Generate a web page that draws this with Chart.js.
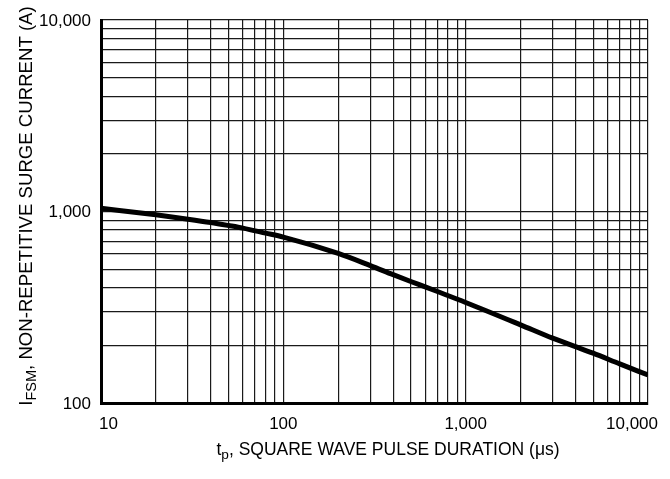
<!DOCTYPE html>
<html lang="en">
  <head>
    <meta charset="UTF-8" />
    <title>Surge Current vs Pulse Duration</title>
    <script src="https://cdn.jsdelivr.net/npm/chart.js"></script>
    <style>
      body { margin: 0; background: #fff; }
      #wrap { width: 670px; height: 479px; position: relative; }
    </style>
  </head>
  <body>
    <div id="wrap"><canvas id="grafico"></canvas></div>

    <script>
      // pulse duration (us) and surge current (A)
      const tp = [10, 20, 30, 40, 50, 60, 80, 100, 200, 300, 400, 500, 600, 700, 1000, 2000, 3000, 4000, 5000, 7000, 10000];
      const ifsm = [1040, 961, 912, 876, 845, 819, 771, 735, 604, 522, 468, 431, 404, 382, 335, 256, 218, 197, 182, 160, 140];

      // grid lines and labelled ticks
      const xGrid = [10, 20, 30, 40, 50, 60, 70, 80, 90, 100, 200, 300, 400, 500, 600, 700, 800, 900,
                     1000, 2000, 3000, 4000, 5000, 6000, 7000, 8000, 9000, 10000];
      const yGrid = [100, 200, 300, 400, 500, 600, 700, 800, 900, 1000, 2000, 3000, 4000, 5000, 6000, 7000, 8000, 9000, 10000];
      const xTicks = [10, 100, 1000, 10000];
      const xTickLabels = ['10', '100', '1,000', '10,000'];
      const yTicks = [100, 1000, 10000];
      const yTickLabels = ['100', '1,000', '10,000'];

      const FONT = '"Liberation Sans", Arial, Helvetica, sans-serif';

      // text made of normal and subscript parts
      function partsWidth(ctx, parts, size) {
        let w = 0;
        parts.forEach(p => {
          ctx.font = (p.sub ? size * 0.78 : size) + 'px ' + FONT;
          w += ctx.measureText(p.t).width;
        });
        return w;
      }
      function drawParts(ctx, parts, x, y, size) {
        parts.forEach(p => {
          ctx.font = (p.sub ? size * 0.78 : size) + 'px ' + FONT;
          ctx.fillText(p.t, x, p.sub ? y + 4 : y);
          x += ctx.measureText(p.t).width;
        });
      }

      const labelsPlugin = {
        id: 'labels',
        afterDraw(chart) {
          const ctx = chart.ctx;
          const xs = chart.scales.x, ys = chart.scales.y;
          ctx.save();
          ctx.fillStyle = '#000';
          ctx.font = '17px ' + FONT;

          // x tick labels, end ones pulled inward
          ctx.textBaseline = 'middle';
          xTicks.forEach((v, i) => {
            let px = xs.getPixelForValue(v);
            if (i === 0) { ctx.textAlign = 'left'; px -= 2; }
            else if (i === xTicks.length - 1) { ctx.textAlign = 'right'; px += 10; }
            else ctx.textAlign = 'center';
            ctx.fillText(xTickLabels[i], px, ys.bottom + 21);
          });

          // y tick labels
          ctx.textAlign = 'right';
          yTicks.forEach((v, i) => {
            ctx.fillText(yTickLabels[i], xs.left - 10, ys.getPixelForValue(v) + 1);
          });

          // x title
          ctx.textAlign = 'left';
          ctx.textBaseline = 'alphabetic';
          const xt = [{ t: 't' }, { t: 'p', sub: true }, { t: ', SQUARE WAVE PULSE DURATION (\u03BCs)' }];
          const xw = partsWidth(ctx, xt, 17.5);
          drawParts(ctx, xt, 388 - xw / 2, 455, 17.5);

          // y title, rotated
          const yt = [{ t: 'I' }, { t: 'FSM', sub: true }, { t: ', NON-REPETITIVE SURGE CURRENT (A)' }];
          const yw = partsWidth(ctx, yt, 18.6);
          ctx.translate(32, 206);
          ctx.rotate(-Math.PI / 2);
          drawParts(ctx, yt, -yw / 2, 0, 18.6);
          ctx.restore();
        }
      };

      const chart = new Chart(document.getElementById('grafico').getContext('2d'), {
        type: 'line',
        data: {
          datasets: [{
            data: tp.map((t, i) => ({ x: t, y: ifsm[i] })),
            borderColor: '#000',
            borderWidth: 5,
            pointRadius: 0,
            fill: false,
            cubicInterpolationMode: 'monotone'
          }]
        },
        options: {
          responsive: true,
          maintainAspectRatio: false,
          animation: false,
          layout: { padding: { left: 101, right: 22, top: 20, bottom: 76 } },
          plugins: {
            legend: { display: false },
            tooltip: { enabled: false }
          },
          scales: {
            x: {
              type: 'logarithmic',
              min: 10,
              max: 10000,
              afterBuildTicks: s => { s.ticks = xGrid.map(v => ({ value: v })); },
              ticks: { display: false },
              grid: { color: '#1a1a1a', lineWidth: 1.2, drawTicks: false },
              border: { display: true, color: '#000', width: 3 }
            },
            y: {
              type: 'logarithmic',
              min: 100,
              max: 10000,
              afterBuildTicks: s => { s.ticks = yGrid.map(v => ({ value: v })); },
              ticks: { display: false },
              grid: { color: '#1a1a1a', lineWidth: 1.2, drawTicks: false },
              border: { display: true, color: '#000', width: 3 }
            }
          }
        },
        plugins: [labelsPlugin]
      });
    </script>
  </body>
</html>
